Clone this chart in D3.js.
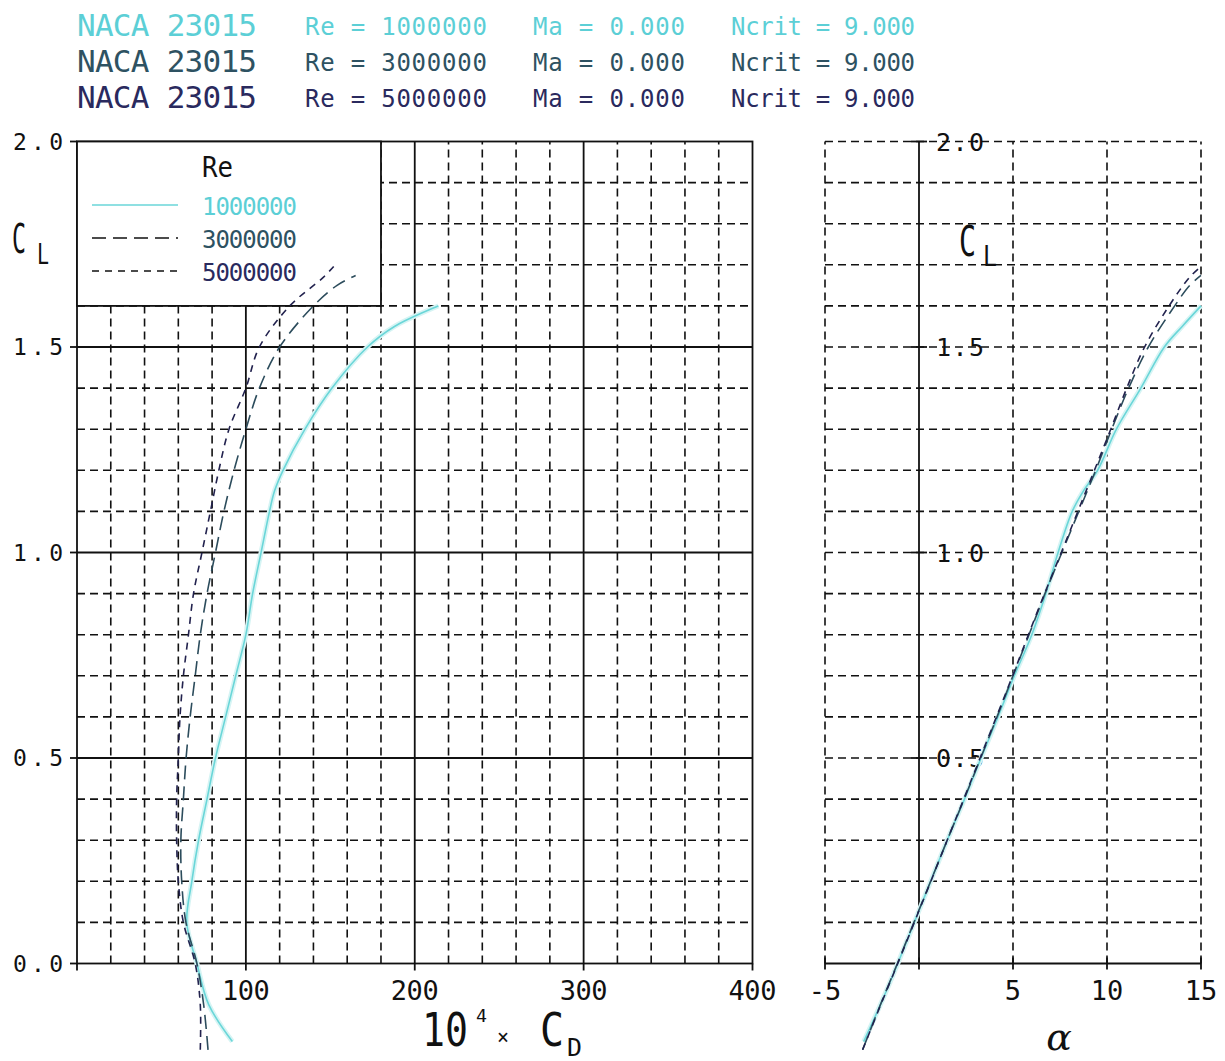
<!DOCTYPE html>
<html>
<head>
<meta charset="utf-8">
<script src="https://cdn.jsdelivr.net/npm/d3@7"></script>
<style>
    body { margin: 0; background: #fff; }
    text { font-family: "DejaVu Sans Mono", monospace; }
</style>
</head>
<body>
<div id="chart"></div>
<script>

// polar header info
const airfoil = "NACA 23015";
const reNumbers = [1000000, 3000000, 5000000];
const machNumbers = [0.000, 0.000, 0.000];
const nCritValues = [9.000, 9.000, 9.000];

// Re = 1 000 000
const cl1 = [-0.19, -0.1, 0.0, 0.1, 0.2, 0.3, 0.4, 0.5, 0.6, 0.7, 0.8, 0.9, 1.0, 1.1, 1.15, 1.2, 1.3, 1.4, 1.5, 1.55, 1.6];
const cd1 = [92, 78, 71, 65, 68, 72, 77, 82, 88, 94, 100, 104, 109, 114, 117, 122, 135, 151, 172, 188, 214];
const alpha1 = [-2.94, -2.05, -1.13, -0.25, 0.62, 1.5, 2.42, 3.3, 4.2, 5.07, 6.0, 6.75, 7.4, 8.15, 8.75, 9.5, 10.5, 11.8, 13.05, 14.0, 15.0];

// Re = 3 000 000
const cl2 = [-0.21, -0.1, 0.0, 0.1, 0.2, 0.3, 0.4, 0.5, 0.6, 0.7, 0.8, 0.9, 1.0, 1.1, 1.2, 1.3, 1.4, 1.5, 1.6, 1.65, 1.674];
const cd2 = [77.6, 75, 71, 64.5, 62, 61.5, 63, 64.6, 67, 70, 73, 77, 82, 87, 93, 100, 108, 120, 140, 154, 165];
const alpha2 = [-3.0, -2.05, -1.15, -0.27, 0.62, 1.5, 2.4, 3.28, 4.15, 5.0, 5.85, 6.7, 7.6, 8.5, 9.4, 10.25, 11.15, 12.2, 13.6, 14.4, 15.0];

// Re = 5 000 000
const cl3 = [-0.21, -0.1, 0.0, 0.1, 0.2, 0.3, 0.4, 0.5, 0.6, 0.7, 0.8, 0.9, 1.0, 1.1, 1.2, 1.3, 1.4, 1.5, 1.6, 1.67, 1.696];
const cd3 = [73, 73, 70, 63, 60, 59, 59, 60, 61, 63, 66, 69, 74, 79, 84, 90, 100, 108, 126, 146, 152];
const alpha3 = [-3.0, -2.03, -1.13, -0.25, 0.63, 1.5, 2.38, 3.25, 4.12, 4.98, 5.82, 6.68, 7.57, 8.45, 9.33, 10.2, 11.05, 12.0, 13.3, 14.4, 15.0];

// tick labels
const cdTicks = [100, 200, 300, 400];
const clTicks = [0.0, 0.5, 1.0, 1.5, 2.0];
const clTicksRight = [0.5, 1.0, 1.5, 2.0];
const alphaTicks = [-5, 5, 10, 15];

// series styles
const colors = ["#6ad6d8", "#2c4c5c", "#22224e"];
const textColors = ["#5ccfd6", "#2e5262", "#2a2a5e"];
const dashes = [null, "14,7", "7,6"];

const width = 1225, height = 1061;

const svg = d3.select("#chart").append("svg")
    .attr("width", width)
    .attr("height", height);

// scales
const xCd = d3.scaleLinear().domain([0, 400]).range([77, 752.5]);
const yCl = d3.scaleLinear().domain([0, 2]).range([963.5, 141.5]);
const xAl = d3.scaleLinear().domain([-5, 15]).range([825, 1201]);

const gridDash = "8,5";
const ink = "#111";

// helper for text
function addText(str, x, y, size, opts = {}) {
    let t = svg.append("text")
        .attr("x", x)
        .attr("y", y)
        .attr("font-size", size)
        .attr("fill", opts.fill || ink)
        .attr("text-anchor", opts.anchor || "start")
        .text(str);
    if (opts.len) {
        t.attr("textLength", opts.len)
            .attr("lengthAdjust", opts.adjust || "spacingAndGlyphs");
    }
    if (opts.family) t.style("font-family", opts.family);
    if (opts.italic) t.attr("font-style", "italic");
    return t;
}

function hLine(x1, x2, y, dash, w) {
    svg.append("line")
        .attr("x1", x1).attr("x2", x2).attr("y1", y).attr("y2", y)
        .attr("stroke", ink).attr("stroke-width", w || 1.6)
        .attr("stroke-dasharray", dash);
}

function vLine(x, y1, y2, dash, w) {
    svg.append("line")
        .attr("x1", x).attr("x2", x).attr("y1", y1).attr("y2", y2)
        .attr("stroke", ink).attr("stroke-width", w || 1.6)
        .attr("stroke-dasharray", dash);
}

// ---------- header ----------
const fmt3 = d3.format(".3f");
reNumbers.forEach((re, i) => {
    let base = 36 + i * 36;
    addText(airfoil, 77, base, 31, {fill: textColors[i], len: 180, adjust: "spacing"});
    addText(`Re = ${re}`, 305, base - 1, 24, {fill: textColors[i], len: 182, adjust: "spacing"});
    addText(`Ma = ${fmt3(machNumbers[i])}`, 533, base - 1, 24, {fill: textColors[i], len: 152, adjust: "spacing"});
    addText(`Ncrit = ${fmt3(nCritValues[i])}`, 731, base - 1, 24, {fill: textColors[i], len: 184, adjust: "spacing"});
});

// ---------- left plot: CL vs CD ----------
// minor dashed grid
d3.range(20, 400, 20).filter(v => v % 100 !== 0).forEach(v => {
    vLine(xCd(v), yCl(0), yCl(2), gridDash);
});
d3.range(1, 20).filter(i => i % 5 !== 0).forEach(i => {
    hLine(xCd(0), xCd(400), yCl(i / 10), gridDash);
});
// major solid grid
[100, 200, 300].forEach(v => vLine(xCd(v), yCl(0), yCl(2), null, 1.8));
[0.5, 1.0, 1.5].forEach(v => hLine(xCd(0), xCd(400), yCl(v), null, 1.8));
// frame
svg.append("rect")
    .attr("x", xCd(0)).attr("y", yCl(2))
    .attr("width", xCd(400) - xCd(0)).attr("height", yCl(0) - yCl(2))
    .attr("fill", "none").attr("stroke", ink).attr("stroke-width", 1.8);

// ticks
clTicks.forEach(v => hLine(xCd(0) - 7, xCd(0), yCl(v), null, 1.8));
[0, 100, 200, 300, 400].forEach(v => vLine(xCd(v), yCl(0), yCl(0) + 7, null, 1.8));

// tick labels
clTicks.forEach(v => addText(d3.format(".1f")(v), 63, yCl(v) + 8, 23, {anchor: "end", len: 50, adjust: "spacing"}));
cdTicks.forEach(v => addText(v, xCd(v), 1000, 27, {anchor: "middle", len: 48, adjust: "spacing"}));

// axis labels
addText("C", 12, 253, 40, {len: 14});
addText("L", 37, 264, 28, {len: 12});

addText("10", 422, 1046, 46, {len: 46});
addText("4", 476, 1022, 18, {len: 11});
addText("×", 497, 1044, 22, {len: 12});
addText("C", 540, 1046, 46, {len: 24});
addText("D", 567, 1056, 25, {len: 15});

// legend box (covers the grid, curves are drawn over it)
svg.append("rect")
    .attr("x", xCd(0)).attr("y", yCl(2))
    .attr("width", xCd(180) - xCd(0)).attr("height", yCl(1.6) - yCl(2))
    .attr("fill", "#fff").attr("stroke", ink).attr("stroke-width", 1.8);

addText("Re", 202, 177, 28, {len: 31});
reNumbers.forEach((re, i) => {
    let ly = 205 + i * 33;
    svg.append("line")
        .attr("x1", 92).attr("x2", 178).attr("y1", ly).attr("y2", ly)
        .attr("stroke", i === 0 ? colors[0] : ink)
        .attr("stroke-width", 1.6)
        .attr("stroke-dasharray", dashes[i]);
    addText(re, 202, ly + 10, 24, {fill: textColors[i], len: 95, adjust: "spacing"});
});

// ---------- right plot: CL vs alpha ----------
[-5, 5, 10, 15].forEach(v => vLine(xAl(v), yCl(0), yCl(2), gridDash));
d3.range(1, 21).forEach(i => hLine(xAl(-5), xAl(15), yCl(i / 10), gridDash));
// axes
hLine(xAl(-5), xAl(15), yCl(0), null, 1.8);
vLine(xAl(0), yCl(0), yCl(2), null, 1.8);
[-5, 0, 5, 10, 15].forEach(v => vLine(xAl(v), yCl(0) - 6, yCl(0) + 6, null, 1.8));
clTicksRight.forEach(v => hLine(xAl(0) - 8, xAl(0) + 8, yCl(v), null, 1.8));

clTicksRight.forEach(v => addText(d3.format(".1f")(v), xAl(0) + 17, yCl(v) + 9, 25, {len: 48, adjust: "spacing"}));
alphaTicks.forEach(v => addText(v, xAl(v), 1000, 27, {anchor: "middle"}));

addText("C", 959, 256, 42, {len: 17});
addText("L", 983, 266, 28, {len: 14});
addText("α", 1059, 1050, 38, {anchor: "middle", family: "DejaVu Serif", italic: true});

// ---------- curves ----------
const clSets = [cl1, cl2, cl3];
const cdSets = [cd1, cd2, cd3];
const alphaSets = [alpha1, alpha2, alpha3];

const polars = reNumbers.map((re, i) => ({
    re: re,
    points: clSets[i].map((cl, j) => ({cl: cl, cd: cdSets[i][j], alpha: alphaSets[i][j]}))
}));

const dragLine = d3.line()
    .x(d => xCd(d.cd))
    .y(d => yCl(d.cl))
    .curve(d3.curveCatmullRom.alpha(0.5));

const liftLine = d3.line()
    .x(d => xAl(d.alpha))
    .y(d => yCl(d.cl))
    .curve(d3.curveCatmullRom.alpha(0.5));

// soft halo under the cyan line, like the original rendering
[dragLine, liftLine].forEach(gen => {
    svg.append("path")
        .attr("d", gen(polars[0].points))
        .attr("fill", "none")
        .attr("stroke", "#d6f4f4")
        .attr("stroke-width", 5);
});

polars.forEach((p, i) => {
    [dragLine, liftLine].forEach(gen => {
        svg.append("path")
            .attr("class", "polar")
            .attr("d", gen(p.points))
            .attr("fill", "none")
            .attr("stroke", colors[i])
            .attr("stroke-width", 1.6)
            .attr("stroke-dasharray", dashes[i]);
    });
});

</script>
</body>
</html>
